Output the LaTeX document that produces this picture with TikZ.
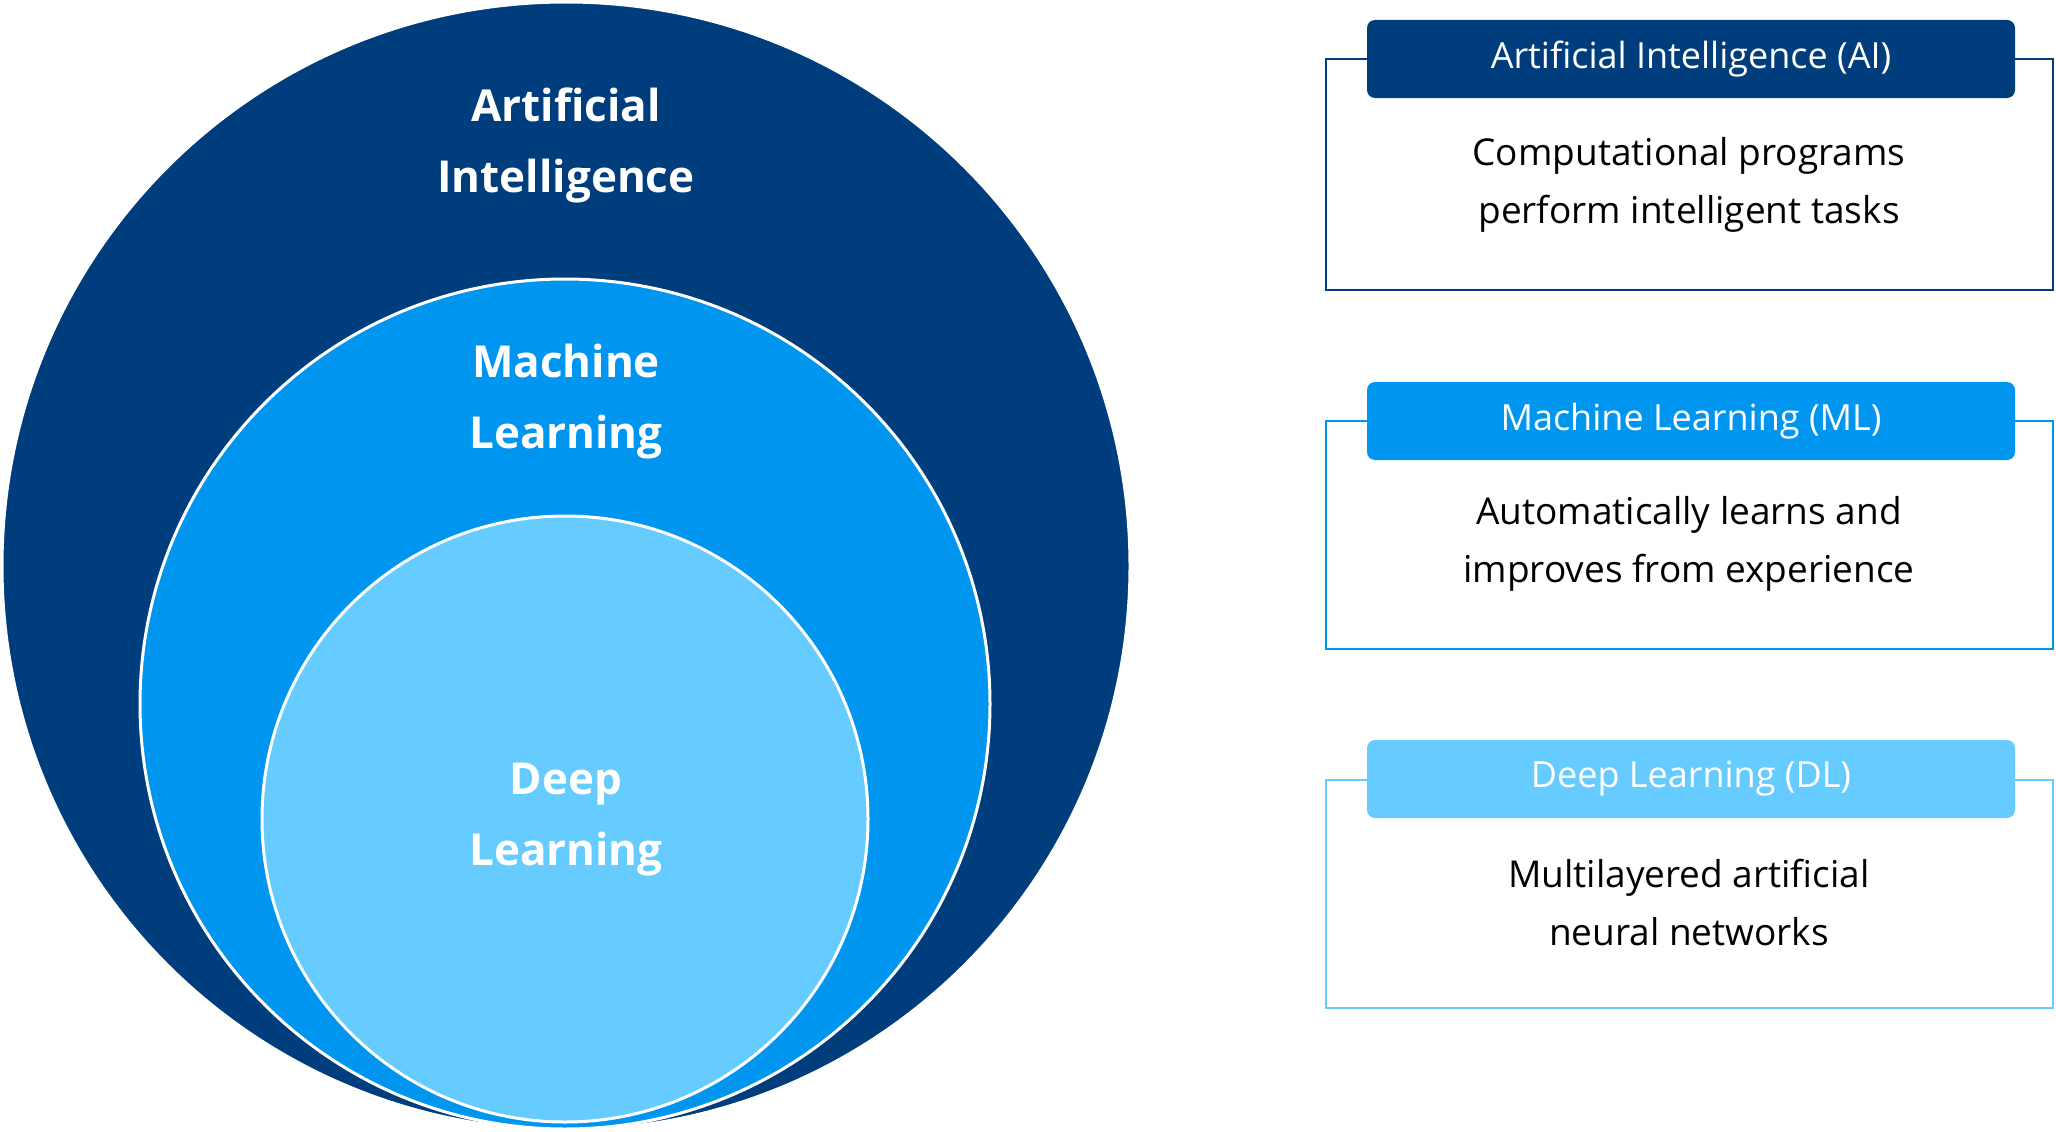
\documentclass[tikz,border=0pt]{standalone}
\usepackage{fontspec}
\setmainfont{Open Sans}
\definecolor{ai}{RGB}{0,61,124}
\definecolor{ml}{RGB}{0,150,240}
\definecolor{dl}{RGB}{102,204,255}
\begin{document}
\begin{tikzpicture}[x=1pt,y=-1pt,
  circ/.style={circle,draw=white,line width=3pt,inner sep=0},
  big/.style={text=white,font=\fontsize{44}{71}\selectfont\bfseries,align=center},
  outl/.style={draw=#1,line width=2.5pt},
  head/.style={fill=#1,rounded corners=8pt,text=white,font=\fontsize{36}{44}\selectfont,minimum width=648pt,minimum height=78pt,inner sep=0},
  body/.style={font=\fontsize{37}{58}\selectfont,align=center,text=black}]
\useasboundingbox (0,0) rectangle (2056,1132);
\node[circ,fill=ai,minimum size=1128pt] (ai) at (566,566) {};
\node[circ,fill=ml,minimum size=850pt] (ml) at (565,704) {};
\node[circ,fill=dl,minimum size=606pt] (dl) at (565,819) {};
\node[big] (tai) at (566,145) {Artificial\\Intelligence};
\node[big] (tml) at (566,402) {Machine\\Learning};
\node[big] (tdl) at (566,820) {Deep\\Learning};
% boxes
\draw[outl=ai] (1326,59) rectangle (2053,290);
\node[head=ai] (hai) at (1691,59) {Artificial Intelligence (AI)};
\node[body] (bai) at (1689,185) {Computational programs\\perform intelligent tasks};
\draw[outl=ml] (1326,421) rectangle (2053,649);
\node[head=ml] (hml) at (1691,421) {Machine Learning (ML)};
\node[body] (bml) at (1689,544) {Automatically learns and\\improves from experience};
\draw[outl=dl] (1326,780) rectangle (2053,1008);
\node[head=dl] (hdl) at (1691,779) {Deep Learning (DL)};
\node[body] (bdl) at (1689,903) {Multilayered artificial\\neural networks};
\end{tikzpicture}
\end{document}
